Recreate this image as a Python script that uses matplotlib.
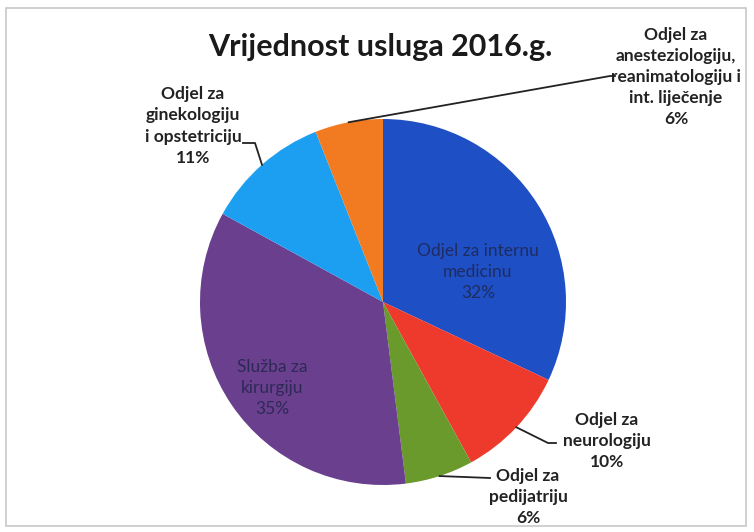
import numpy as np
import matplotlib
matplotlib.use("Agg")
import matplotlib.pyplot as plt
from matplotlib.patches import Rectangle

# ── data ──────────────────────────────────────
title = "Vrijednost usluga 2016.g."
labels = ["Odjel za internu\nmedicinu", "Odjel za\nneurologiju", "Odjel za\npedijatriju",
          "Služba za\nkirurgiju", "Odjel za\nginekologiju\ni opstetriciju",
          "Odjel za\nanesteziologiju,\nreanimatologiju i\nint. liječenje"]
shares = [32, 10, 6, 35, 11, 6]
colors = ["#1f4fc4", "#ee3a2c", "#6a9a2c", "#6a3f8e", "#1c9ff0", "#f27a20"]
inside = [True, False, False, True, False, False]

plt.rcParams["font.family"] = ["Lato", "DejaVu Sans"]

fig = plt.figure(figsize=(7.54, 5.32), dpi=100)
ax = fig.add_axes([0, 0, 1, 1])

# chart frame
fig.patches.append(Rectangle((6 / 754, 6 / 532), 740 / 754, 518 / 532, transform=fig.transFigure,
                             fill=False, edgecolor="#c8c8c8", linewidth=1.2))

cx, cy, R = 383, 230, 183
wedges, _ = ax.pie(shares, colors=colors, startangle=90, counterclock=False,
                   center=(cx, cy), radius=R, frame=True)
ax.set_xlim(0, 754)
ax.set_ylim(0, 532)
ax.set_aspect("equal")
ax.axis("off")

ax.text(380, 532 - 47, title, ha="center", va="center", fontsize=22, fontweight="bold", color="#1a1a1a")

# positions of text (pixel coords, y from top) and leader elbows
txt_pos = {0: (478, 272), 3: (272, 388), 1: (607, 441), 2: (528, 497),
           4: (193, 126), 5: (676, 77)}
elbow = {1: [(548, 443), (556, 443)], 2: [(490, 478)],
         4: [(255, 143), (243, 143)], 5: [(610, 76), (615, 76)]}

total = sum(shares)
cum = np.cumsum([0] + shares)
for i, (lab, v) in enumerate(zip(labels, shares)):
    pct = f"{round(100 * v / total)}%"
    x, y = txt_pos[i]
    if inside[i]:
        ax.text(x, 532 - y, f"{lab}\n{pct}", ha="center", va="center", fontsize=12.5,
                color="#1e2448", alpha=0.8, linespacing=1.4)
    else:
        ax.text(x, 532 - y, f"{lab}\n{pct}", ha="center", va="center", fontsize=12.5,
                fontweight="bold", color="#222222", linespacing=1.4)
        mid = np.deg2rad(90 - 360 * (cum[i] + v / 2) / total)
        px, py = cx + R * np.cos(mid), cy + R * np.sin(mid)
        pts = [(px, py)] + [(ex, 532 - ey) for ex, ey in elbow[i]]
        ax.plot([p[0] for p in pts], [p[1] for p in pts], color="#222222", lw=1.3)

fig.savefig("out.png", dpi=100)
